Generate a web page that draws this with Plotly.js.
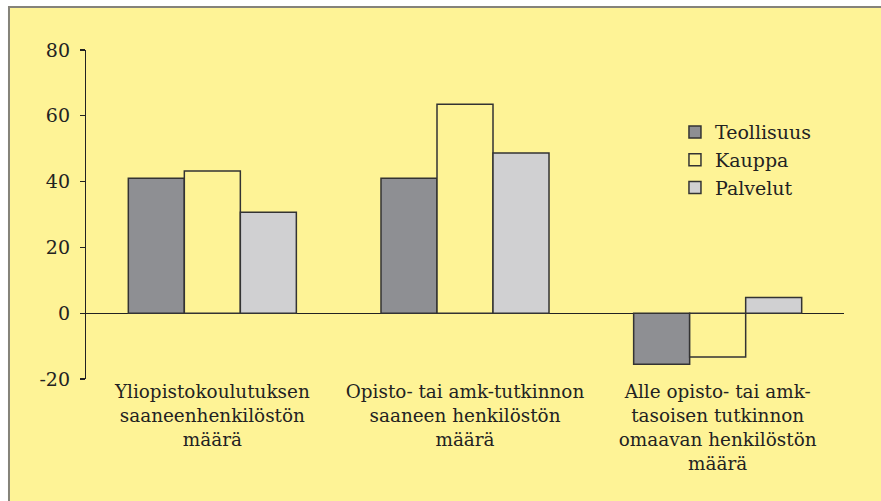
<!DOCTYPE html>
<html><head><meta charset="utf-8">
<script src="https://cdn.plot.ly/plotly-3.0.1.min.js"></script>
<style>html,body{margin:0;padding:0;background:#fff;}#c{width:881px;height:501px;}</style>
</head><body><div id="c"></div>
<script>
const categories = [
  "Yliopistokoulutuksen<br>saaneenhenkilöstön<br>määrä",
  "Opisto- tai amk-tutkinnon<br>saaneen henkilöstön<br>määrä",
  "Alle opisto- tai amk-<br>tasoisen tutkinnon<br>omaavan henkilöstön<br>määrä"
];
const seriesNames = ["Teollisuus", "Kauppa", "Palvelut"];
const teollisuus = [41, 41, -15.5];
const kauppa = [43.2, 63.5, -13.3];
const palvelut = [30.7, 48.7, 4.8];
const yTicks = [-20, 0, 20, 40, 60, 80];

const bg = "#fef396";
const fills = ["#8e8f93", bg, "#d0d0d2"];
const values = [teollisuus, kauppa, palvelut];
const font = "DejaVu Serif";

const traces = values.map((v, i) => ({
  type: "bar",
  name: seriesNames[i],
  x: categories,
  y: v,
  marker: {color: fills[i], line: {color: "#333", width: 1.5}},
  hoverinfo: "none"
}));

const layout = {
  width: 881, height: 501,
  margin: {l: 86, r: 37, t: 50, b: 122},
  paper_bgcolor: "#ffffff",
  plot_bgcolor: "rgba(0,0,0,0)",
  font: {family: font, color: "#222", size: 18},
  barmode: "group",
  bargap: 0.335,
  bargroupgap: 0,
  showlegend: true,
  legend: {
    x: 0.777, xanchor: "left", y: 0.808, yanchor: "top",
    bgcolor: "rgba(0,0,0,0)", font: {family: font, size: 19, color: "#222"},
    itemwidth: 30
  },
  xaxis: {
    showline: false, ticks: "", showgrid: false, zeroline: false,
    tickfont: {family: font, size: 18.4, color: "#222"},
    fixedrange: true
  },
  yaxis: {
    range: [-20, 80], tickvals: yTicks, ticktext: yTicks.map(String),
    showline: true, linecolor: "#222", linewidth: 1.2,
    ticks: "outside", ticklen: 5, tickcolor: "#222", tickwidth: 1.2,
    ticklabelstandoff: 6,
    showgrid: false, zeroline: true, zerolinecolor: "#222", zerolinewidth: 1.2,
    tickfont: {family: font, size: 19, color: "#222"},
    fixedrange: true
  },
  shapes: [{
    type: "rect", xref: "paper", yref: "paper", layer: "below",
    x0: -0.1016, x1: 1.3, y0: -0.6, y1: 1.1307,
    fillcolor: bg, line: {color: "#85837a", width: 2}
  }]
};

Plotly.newPlot("c", traces, layout, {displayModeBar: false, staticPlot: true});
</script></body></html>
